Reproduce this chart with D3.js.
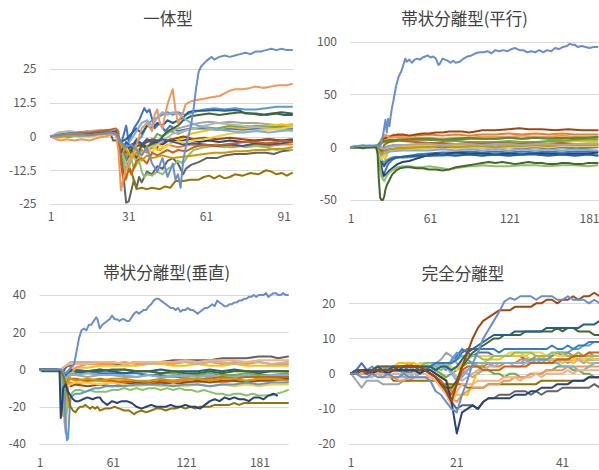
<!DOCTYPE html>
<html>
<head>
<meta charset="utf-8">
<script src="https://cdn.jsdelivr.net/npm/d3@7"></script>
<style>
  body { margin: 0; background: #fff; }
  svg text { font-family: "Noto Sans CJK JP", "Noto Sans", sans-serif; }
</style>
</head>
<body>
<div id="chart"></div>
<script>
// Excel default series colours, index = series number - 1
const palette = [
  "#4472C4", "#ED7D31", "#A5A5A5", "#FFC000", "#5B9BD5", "#70AD47",
  "#264478", "#9E480E", "#636363", "#997300", "#255E91", "#43682B",
  "#698ED0", "#F1975A", "#B7B7B7", "#FFCD33", "#7CAFDD", "#8CC168",
  "#335AA1", "#D26012", "#848484", "#CC9A00", "#327DC2", "#5A8A39",
  "#8FAADC", "#F4B183"
];

// ---- 一体型 ----
const titleA = "一体型";
const yTicksA = [25, 12.5, 0, -12.5, -25];
const xTicksA = [1, 31, 61, 91];
const seriesA = [
  { id: 1, values: [[1,0],[4,1],[8,1],[12,1.5],[16,2],[20,2],[24,2.5],[26,2],[28,-3],[30,4],[31,-2],[33,3],[35,6],[37,10.5],[38,9],[39,10],[41,3],[43,5],[45,2],[47,4],[50,2],[55,3],[60,3],[65,2.5],[70,3],[75,2.5],[80,3],[85,3],[90,2.5],[94,3]] },
  { id: 2, values: [[1,0],[4,0.5],[8,1],[12,0.5],[16,1],[20,1.5],[24,2],[26,2],[28,-8],[30,-12],[32,-7],[34,-9],[36,-5],[38,-6],[40,-4],[43,-5],[46,-3],[50,-4],[55,-3],[60,-3.5],[65,-3],[70,-4],[75,-3.5],[80,-3],[85,-3.5],[90,-3],[94,-3]] },
  { id: 3, values: [[1,0],[4,1.5],[8,1.5],[12,1],[16,1.5],[20,2],[24,1.5],[26,2],[28,-2],[30,-6],[32,-3],[35,-5],[38,-2],[41,-3],[44,0],[47,2],[50,3],[54,4],[58,5],[62,5.5],[66,5],[70,5.5],[75,5],[80,5],[85,4.5],[90,4],[94,4.5]] },
  { id: 4, values: [[1,0],[4,-0.5],[8,0],[12,0.5],[16,0],[20,0.5],[24,1],[26,0.5],[28,-4],[30,-7],[32,-5],[34,-6],[36,-4],[39,-3],[42,-5],[45,-4],[48,-2],[51,-1],[55,1],[60,2],[65,3],[70,3.5],[75,3],[80,3.5],[85,4],[90,4.5],[94,4]] },
  { id: 5, values: [[1,0],[4,0.5],[8,0],[12,0.5],[16,1],[20,1],[24,1.5],[26,1],[28,-3],[30,-8],[32,-4],[34,-2],[36,0],[38,4],[40,6],[42,7],[44,8],[46,9],[48,8],[50,9],[53,8],[56,9],[60,10],[64,10.5],[68,10],[72,10.5],[76,10],[80,10],[84,10.5],[88,11],[94,11]] },
  { id: 6, values: [[1,0],[4,1],[8,0.5],[12,1],[16,1],[20,1.5],[24,2],[26,2],[28,-5],[30,-3],[32,-6],[34,-2],[36,-4],[38,-1],[40,-2],[42,1],[44,0],[47,2],[50,1],[55,3],[60,3.5],[65,3],[70,4],[75,3.5],[80,4],[85,3.5],[90,3.5],[94,3.5]] },
  { id: 7, values: [[1,0],[4,0],[8,0.5],[12,0.5],[16,1],[20,1],[24,1.5],[26,1],[28,-2],[30,-5],[32,-3],[35,-2],[38,-4],[41,-2],[44,-3],[47,-1],[50,-2],[54,-1],[58,-2],[62,-1.5],[66,-2],[70,-1.5],[75,-2],[80,-1.5],[85,-1],[90,-1.5],[94,-1]] },
  { id: 8, values: [[1,0],[4,0.5],[8,1],[12,1],[16,1.5],[20,2],[24,2],[26,2],[28,-3],[30,-6],[33,-4],[36,-3],[40,-1],[44,-2],[48,-1],[52,0],[56,-1],[60,-0.5],[65,-1],[70,-0.5],[75,-1],[80,-1.5],[85,-1],[90,-1.5],[94,-1.5]] },
  { id: 9, values: [[1,0],[4,0.5],[8,0.5],[12,1],[16,1],[20,1],[24,1],[25,-1.5],[27,-1.5],[28,-3],[29,-15],[30,-24.5],[31,-24],[32,-20],[33,-16],[34,-19],[35,-15],[36,-17],[38,-13],[40,-14],[42,-11],[44,-12],[46,-9],[48,-8],[50,-10],[52,-14],[53,-12],[55,-10.5],[58,-9.5],[61,-8],[65,-8],[68,-7],[72,-6.5],[76,-6.5],[80,-6],[84,-6],[87,-6.5],[90,-5.5],[94,-5]] },
  { id: 10, values: [[1,0],[4,0],[8,0.5],[12,0.5],[16,1],[20,1],[24,1.5],[26,1.5],[28,-4],[30,-9],[32,-13],[34,-19.5],[36,-19],[38,-19.5],[40,-19],[43,-19.5],[45,-18.5],[47,-19],[49,-16.5],[52,-16.5],[55,-16],[58,-16],[60,-15],[62,-14.5],[64,-15.5],[66,-14.5],[68,-15.5],[70,-15],[72,-14],[75,-14.5],[78,-13.5],[81,-14],[84,-12.5],[86,-13],[88,-14],[90,-13.5],[92,-14.5],[94,-13.5]] },
  { id: 11, values: [[1,0],[4,0.5],[8,0],[12,0.5],[16,1],[20,1.5],[24,1],[26,1.5],[28,-2],[30,-1],[32,1],[34,3],[36,1],[38,4],[40,3],[42,5],[44,4],[46,6],[48,5],[50,6],[52,7],[54,9],[56,9.5],[60,9.5],[64,9.8],[68,9.5],[72,9.8],[74,9.5],[76,8.5],[80,8.5],[84,8],[88,8.5],[91,8],[94,8]] },
  { id: 12, values: [[1,0],[4,0.5],[8,1],[12,1],[16,1.5],[20,1.5],[24,2],[26,2],[28,-6],[30,-10],[32,-5],[34,-8],[36,-3],[38,-5],[40,-2],[42,-4],[44,0],[46,2],[48,3],[50,4],[52,6],[55,7.5],[58,8],[62,8.5],[66,8],[70,8.5],[74,9],[78,8.5],[82,8],[86,8.5],[90,9],[94,8.5]] },
  { id: 15, values: [[1,0],[4,1.5],[8,2],[12,1.5],[16,2],[20,2.5],[24,2],[26,2],[28,-5],[30,-10],[32,-7],[34,-9],[36,-6],[39,-4],[42,-3],[45,-1],[48,1],[52,2],[56,3],[60,4],[65,5],[70,4.5],[75,4],[80,3.5],[85,3],[90,2.5],[94,2]] },
  { id: 16, values: [[1,0],[4,0],[8,0.5],[12,1],[16,0.5],[20,1],[24,1],[26,1],[28,-6],[30,-4],[32,-8],[34,-5],[36,-7],[38,-4],[40,-6],[42,-3],[45,-4],[48,-2],[52,-2],[56,-1.5],[60,-1],[65,0],[70,1],[75,1.5],[80,2],[85,2.5],[90,3],[94,3.5]] },
  { id: 17, values: [[1,0],[4,0],[8,0.5],[12,0],[16,0.5],[20,1],[24,1],[26,1],[28,-2],[30,-4],[32,-1],[34,2],[36,5],[38,6],[40,4],[42,7],[44,9],[46,8],[48,9],[50,8.5],[52,7],[55,5],[58,4],[62,3],[66,2.5],[70,2],[75,1.5],[80,2],[85,1.5],[90,2],[94,2.5]] },
  { id: 18, values: [[1,0],[4,0.5],[8,0],[12,0.5],[16,1],[20,1],[24,1.5],[26,1.5],[28,-3],[29,-9],[30,-16],[31,-12],[32,-8],[33,-12],[35,-9],[36,-13],[37,-15],[38,-14],[40,-14.5],[42,-13],[44,-14],[46,-12],[48,-11],[50,-9],[52,-10],[54,-7],[56,-5],[60,-4],[64,-3.5],[68,-4],[72,-3],[76,-4],[80,-3.5],[84,-4],[88,-5],[91,-4.5],[94,-5]] },
  { id: 19, values: [[1,0],[4,0.5],[8,0.5],[12,1],[16,1],[20,1.5],[24,1.5],[26,2],[28,-6],[30,-2],[32,-4],[34,-1],[36,-3],[38,-1],[40,-2],[44,-1],[48,-2],[52,-3],[56,-2.5],[60,-3],[65,-3.5],[70,-3],[75,-3.5],[80,-2.5],[85,-3],[90,-2.5],[94,-2]] },
  { id: 20, values: [[1,0],[4,0.5],[8,1],[12,1.5],[16,1.5],[20,2],[24,2.5],[26,3],[27,2],[28,-10],[29,-17],[30,-15],[31,-12],[32,-14],[34,-9],[36,-8],[38,-10],[40,-6],[42,-7],[44,-6],[46,-5],[48,-6],[50,-5],[53,-5.5],[56,-4],[60,-3],[64,-3.5],[68,-3],[72,-2.5],[76,-2],[80,-2],[84,-2.5],[88,-2],[91,-1.5],[94,-2]] },
  { id: 22, values: [[1,0],[4,0],[8,0.5],[12,0.5],[16,0.5],[20,1],[24,1],[26,1],[28,-3],[30,-5],[32,-8],[34,-6],[36,-9],[38,-7],[40,-8],[44,-7],[48,-8],[52,-7.5],[56,-7],[60,-6.5],[64,-6],[68,-6],[72,-5.5],[76,-5.5],[80,-5],[84,-5],[88,-4.5],[91,-4.5],[94,-4]] },
  { id: 14, values: [[1,0],[3,-1],[5,-1.5],[7,-1],[10,-1.5],[13,-1],[16,-1.5],[19,-0.5],[22,0],[24,0.5],[26,1],[27,-5],[28,-20],[29,-15],[30,-12],[32,-8],[34,-3],[36,3],[38,5],[40,2],[41,8],[42,10],[43,5],[44,3],[45,8],[46,12],[47,15],[48,17.5],[49,10],[50,5],[51,7],[52,9],[53,12],[55,13],[57,13.5],[60,14],[63,14.5],[66,15],[68,16],[70,17],[72,17.5],[75,17.5],[78,18],[80,18.5],[83,18],[86,18.5],[89,19],[92,19],[94,19.5]] },
  { id: 13, values: [[1,0],[4,0.5],[8,1],[12,1],[16,0.5],[20,1],[24,1.5],[26,1],[28,-2],[30,-4],[32,-3],[34,-5],[36,-7],[38,-4],[40,-10],[42,-13],[44,-8],[46,-15],[48,-10],[49,-16],[50,-14],[51,-19],[52,-9],[53,-4],[54,0],[55,4],[56,10],[57,18],[58,24],[59,26],[61,28],[63,29.5],[64,28.5],[66,29.5],[68,30],[70,29.5],[72,30],[74,30.5],[76,31],[78,30.5],[80,31.5],[82,31.5],[84,32],[86,32.5],[88,32],[90,32.5],[92,32],[94,32]] }
];

// ---- 帯状分離型(平行) ----
const titleB = "帯状分離型(平行)";
const yTicksB = [100, 50, 0, -50];
const xTicksB = [1, 61, 121, 181];
const seriesB = [
  { id: 1, values: [[1,0],[5,1],[10,0],[15,1],[20,0],[22,-8],[23,-20],[25,-28],[27,-22],[29,-16],[32,-12],[35,-10],[40,-9],[45,-8],[50,-7],[60,-6],[70,-5],[80,-5],[90,-4],[100,-5],[110,-4],[120,-5],[130,-4],[140,-5],[150,-4],[160,-5],[170,-4],[187,-4]] },
  { id: 2, values: [[1,0],[5,0],[10,1],[15,0],[20,1],[22,2],[24,5],[26,9],[28,11],[30,10],[33,12],[36,11],[40,11],[50,11],[60,12],[70,11],[80,12],[90,11],[100,12],[110,12],[120,13],[130,12],[140,13],[150,12],[160,13],[170,12],[187,12]] },
  { id: 3, values: [[1,0],[5,1],[10,0],[15,1],[20,1],[22,0],[24,-3],[26,-1],[28,1],[32,2],[40,2],[50,1],[60,2],[70,2],[80,1],[90,2],[100,2],[110,1],[120,2],[130,2],[140,1],[150,2],[160,2],[170,1],[187,2]] },
  { id: 4, values: [[1,0],[5,0],[10,0],[15,1],[20,0],[22,-10],[24,-22],[25,-18],[27,-10],[29,-5],[32,-2],[36,0],[40,1],[50,1],[60,2],[70,1],[80,2],[90,2],[100,3],[110,3],[120,4],[130,3],[140,4],[150,5],[160,5],[170,6],[180,5],[187,5]] },
  { id: 5, values: [[1,0],[5,0],[10,1],[15,0],[20,1],[22,-3],[24,-12],[26,-15],[28,-12],[31,-10],[35,-9],[40,-10],[50,-9],[60,-8],[70,-8],[80,-7],[90,-7],[100,-6],[110,-7],[120,-6],[130,-7],[140,-6],[150,-7],[160,-6],[170,-7],[180,-6],[187,-7]] },
  { id: 6, values: [[1,0],[5,1],[10,0],[15,1],[20,1],[22,2],[24,4],[26,5],[30,6],[35,7],[40,8],[45,9],[50,8],[55,8],[60,7],[70,6],[80,6],[90,5],[100,5],[110,5],[120,6],[130,5],[140,5],[150,6],[160,6],[170,7],[180,7],[187,7]] },
  { id: 7, values: [[1,0],[5,0],[10,1],[15,0],[20,1],[22,-5],[24,-20],[26,-27],[28,-25],[30,-22],[33,-19],[36,-16],[40,-14],[45,-13],[50,-11],[55,-9],[60,-7],[65,-6],[70,-7],[75,-6],[80,-5],[90,-6],[100,-6],[110,-7],[120,-6],[130,-7],[140,-6],[150,-6],[160,-7],[170,-6],[180,-6],[187,-5]] },
  { id: 8, values: [[1,0],[5,1],[10,0],[15,1],[20,1],[22,3],[24,6],[26,8],[28,9],[30,10],[33,11],[36,12],[40,12],[45,11],[50,12],[55,13],[60,13],[65,14],[70,14],[75,15],[80,15],[85,15],[90,14],[95,15],[100,16],[110,16],[120,17],[128,18],[135,17],[145,17],[155,16],[165,17],[175,16],[187,16]] },
  { id: 9, values: [[1,0],[5,0],[10,1],[15,0],[20,0],[22,-2],[24,-4],[26,-3],[30,-2],[40,-1],[50,-1],[60,0],[70,-1],[80,0],[90,-1],[100,0],[110,-1],[120,0],[130,-1],[140,0],[150,-1],[160,0],[170,-1],[187,0]] },
  { id: 10, values: [[1,0],[5,0],[10,1],[15,1],[20,0],[22,-2],[24,-5],[26,2],[28,4],[30,5],[35,6],[40,7],[50,7],[60,7],[70,8],[80,7],[90,8],[100,8],[110,8],[120,9],[130,8],[140,9],[150,9],[160,9],[170,8],[180,9],[187,9]] },
  { id: 11, values: [[1,0],[5,1],[10,1],[15,0],[20,1],[22,-6],[24,-14],[26,-18],[28,-14],[30,-12],[34,-10],[40,-9],[50,-8],[60,-8],[70,-7],[80,-8],[90,-7],[100,-8],[110,-7],[120,-8],[130,-7],[140,-7],[150,-8],[160,-7],[170,-8],[180,-7],[187,-8]] },
  { id: 14, values: [[1,0],[5,0],[10,0],[15,1],[20,0],[22,3],[24,8],[26,12],[28,11],[30,9],[35,10],[40,9],[50,9],[60,9],[70,8],[80,9],[90,9],[100,10],[110,10],[120,10],[130,11],[140,10],[150,10],[160,11],[170,10],[187,10]] },
  { id: 16, values: [[1,0],[5,1],[10,0],[15,0],[20,1],[22,-6],[24,-12],[26,-8],[28,-5],[32,-3],[40,-2],[50,-2],[60,-1],[70,-2],[80,-1],[90,-1],[100,0],[110,-1],[120,0],[130,0],[140,1],[150,0],[160,1],[170,1],[187,1]] },
  { id: 17, values: [[1,0],[5,0],[10,1],[15,0],[20,0],[22,-4],[24,-8],[26,-6],[30,-4],[40,-3],[50,-3],[60,-3],[70,-2],[80,-3],[90,-2],[100,-3],[110,-2],[120,-3],[130,-2],[140,-3],[150,-2],[160,-3],[170,-2],[187,-3]] },
  { id: 20, values: [[1,0],[5,0],[10,1],[15,1],[20,0],[22,2],[24,4],[26,6],[30,7],[40,6],[50,5],[60,4],[70,4],[80,3],[90,4],[100,3],[110,4],[120,4],[130,3],[140,4],[150,3],[160,4],[170,3],[187,3]] },
  { id: 22, values: [[1,0],[5,0],[10,0],[15,1],[20,0],[22,-3],[24,-6],[26,-4],[30,-2],[40,-1],[50,0],[60,0],[70,1],[80,0],[90,1],[100,1],[110,0],[120,1],[130,1],[140,2],[150,1],[160,2],[170,2],[187,2]] },
  { id: 24, values: [[1,0],[5,0],[10,1],[15,1],[20,0],[22,3],[24,5],[28,6],[32,7],[40,7],[50,8],[60,8],[70,7],[80,8],[90,9],[100,8],[110,8],[120,9],[130,8],[140,9],[150,8],[160,8],[170,9],[180,9],[187,10]] },
  { id: 25, values: [[1,0],[5,1],[10,1],[15,2],[20,1],[22,1],[24,0],[26,-2],[28,0],[32,1],[40,2],[50,3],[60,3],[70,2],[80,3],[90,3],[100,2],[110,3],[120,3],[130,2],[140,3],[150,3],[160,2],[170,3],[187,3]] },
  { id: 18, values: [[1,0],[5,1],[10,0],[15,1],[20,0],[22,-10],[24,-28],[26,-32],[28,-27],[30,-24],[33,-21],[36,-19],[40,-18],[45,-18],[50,-19],[55,-19],[60,-18],[65,-19],[70,-20],[75,-21],[80,-20],[85,-19],[90,-18],[95,-18],[100,-17],[110,-18],[120,-18],[130,-17],[140,-17],[150,-18],[160,-17],[170,-17],[180,-18],[187,-17]] },
  { id: 12, values: [[1,0],[5,0],[10,-1],[15,0],[20,0],[21,-5],[22,-30],[23,-48],[24,-50],[25,-50],[26,-47],[27,-40],[28,-36],[30,-31],[32,-26],[35,-22],[38,-20],[42,-19],[46,-19],[50,-20],[55,-20],[60,-21],[65,-21],[70,-22],[75,-21],[80,-19],[85,-18],[90,-17],[95,-16],[100,-15],[105,-14],[110,-15],[115,-14],[120,-15],[125,-16],[130,-15],[135,-14],[140,-15],[145,-15],[150,-16],[155,-16],[160,-15],[165,-15],[170,-16],[175,-16],[180,-15],[187,-15]] },
  { id: 13, values: [[1,0],[5,1],[10,2],[15,1],[20,2],[23,1],[24,4],[25,10],[26,18],[27,26],[28,14],[29,27],[30,20],[31,30],[32,38],[33,44],[35,58],[37,67],[39,72],[41,80],[42,84],[43,81],[45,83],[47,80],[49,83],[51,84],[53,83],[55,85],[57,86],[59,87],[61,85],[63,86],[65,84],[67,78],[68,79],[70,84],[72,83],[74,82],[76,80],[78,82],[80,80],[83,81],[86,84],[89,86],[92,87],[95,89],[98,90],[101,90],[104,91],[107,89],[110,92],[113,91],[116,92],[119,91],[122,93],[125,94],[128,92],[131,92],[134,90],[137,91],[140,90],[143,92],[146,90],[149,92],[152,91],[155,94],[158,93],[161,95],[164,96],[166,98],[168,97],[170,97],[172,95],[175,96],[178,95],[181,94],[184,95],[187,95]] }
];

// ---- 帯状分離型(垂直) ----
const titleC = "帯状分離型(垂直)";
const yTicksC = [40, 20, 0, -20, -40];
const xTicksC = [1, 61, 121, 181];
const seriesC = [
  { id: 1, values: [[1,0],[5,0],[10,0],[15,0],[18,0],[20,-2],[22,-4],[24,-2],[26,-1],[30,0],[40,-1],[50,-2],[60,-2],[70,-2],[80,-2],[90,-3],[100,-3],[110,-4],[120,-4],[130,-3],[140,-4],[150,-4],[160,-3],[170,-4],[180,-3],[190,-4],[204,-4]] },
  { id: 2, values: [[1,0],[5,0],[10,0],[15,0],[18,-1],[20,-12],[22,-18],[24,-8],[26,-7],[30,-8],[35,-7],[40,-6],[50,-6],[60,-7],[70,-6],[80,-7],[90,-8],[100,-7],[110,-7],[120,-6],[130,-7],[140,-6],[150,-7],[160,-6],[170,-6],[180,-5],[190,-5],[204,-5]] },
  { id: 3, values: [[1,0],[5,0],[10,0],[15,0],[18,-1],[20,-4],[22,-6],[24,-4],[26,-3],[30,-3],[40,-4],[50,-3],[60,-3],[70,-4],[80,-4],[90,-3],[100,-4],[110,-3],[120,-4],[130,-3],[140,-4],[150,-4],[160,-3],[170,-4],[180,-3],[190,-4],[204,-3]] },
  { id: 4, values: [[1,0],[5,0],[10,0],[15,0],[18,0],[20,-3],[22,-12],[23,-6],[24,-2],[26,0],[30,1],[40,1],[50,2],[60,2],[70,2],[80,2],[90,3],[100,3],[110,2],[120,2],[130,3],[140,2],[150,2],[160,3],[170,2],[180,2],[190,2],[204,2]] },
  { id: 6, values: [[1,0],[5,0],[10,0],[15,0],[18,-1],[19,-10],[20,-25],[21,-23],[22,-10],[24,-5],[26,-3],[30,-2],[36,-1],[40,-1],[50,0],[60,-1],[70,0],[80,-1],[90,-1],[100,-2],[110,-2],[120,-3],[130,-3],[140,-2],[150,-3],[160,-3],[170,-2],[180,-3],[190,-3],[204,-2]] },
  { id: 8, values: [[1,0],[5,0],[10,0],[15,0],[18,-1],[20,-6],[22,-10],[24,-8],[26,-9],[30,-8],[40,-9],[50,-8],[60,-9],[70,-8],[80,-7],[90,-8],[100,-7],[110,-8],[120,-7],[130,-6],[140,-7],[150,-6],[160,-6],[170,-7],[180,-6],[190,-6],[204,-5]] },
  { id: 9, values: [[1,0],[5,0],[10,0],[15,0],[18,0],[20,-1],[22,1],[24,2],[26,2],[30,3],[40,3],[50,3],[60,3],[70,3],[80,4],[90,4],[100,4],[110,5],[120,5],[130,5],[140,5],[150,6],[160,6],[170,6],[180,7],[190,7],[196,6],[204,7]] },
  { id: 11, values: [[1,0],[5,0],[10,0],[15,0],[18,0],[20,-1],[22,-3],[24,-2],[26,-1],[30,-1],[40,-1],[50,0],[60,-1],[70,-2],[80,-1],[90,-1],[100,0],[110,-1],[120,-1],[130,-1],[140,0],[150,-1],[160,0],[170,-1],[180,-1],[190,-1],[204,-1]] },
  { id: 12, values: [[1,0],[3,-1],[10,-1],[15,-1],[18,-1],[20,-3],[22,-2],[24,-1],[26,0],[30,-1],[35,-2],[40,-1],[50,-1],[60,0],[70,0],[80,-1],[90,-1],[100,-2],[110,-1],[120,-2],[130,-2],[140,-1],[150,-2],[160,-1],[170,-1],[180,-2],[190,-1],[204,-1]] },
  { id: 14, values: [[1,0],[5,0],[10,0],[15,0],[18,-1],[20,-8],[21,-28],[22,-34],[23,-20],[24,-8],[26,-3],[28,-1],[30,1],[35,2],[40,3],[50,3],[60,3],[70,4],[80,3],[90,3],[100,4],[110,3],[120,4],[130,3],[140,4],[150,3],[160,4],[170,3],[180,4],[190,3],[204,3]] },
  { id: 15, values: [[1,0],[5,0],[10,0],[15,0],[18,0],[20,1],[22,2],[24,3],[26,4],[30,4],[40,4],[50,4],[60,4],[70,3],[80,4],[90,3],[100,4],[110,4],[120,4],[130,3],[140,4],[150,4],[160,3],[170,4],[180,4],[190,3],[204,4]] },
  { id: 16, values: [[1,0],[5,0],[10,0],[15,0],[18,-1],[20,-5],[22,-10],[24,-9],[26,-8],[30,-7],[40,-7],[50,-8],[60,-7],[70,-8],[80,-9],[90,-8],[100,-9],[110,-8],[120,-9],[130,-8],[140,-9],[150,-8],[160,-9],[170,-8],[180,-9],[190,-8],[204,-8]] },
  { id: 17, values: [[1,0],[5,0],[10,0],[15,0],[18,0],[20,-2],[22,-5],[24,-3],[26,-2],[30,-3],[40,-2],[50,-3],[60,-3],[70,-3],[80,-4],[90,-3],[100,-4],[110,-4],[120,-3],[130,-4],[140,-3],[150,-4],[160,-4],[170,-3],[180,-4],[190,-3],[204,-3]] },
  { id: 20, values: [[1,0],[5,0],[10,0],[15,0],[18,-1],[20,-4],[22,-8],[24,-6],[26,-5],[30,-5],[40,-6],[50,-5],[60,-6],[70,-7],[80,-6],[90,-7],[100,-6],[110,-6],[120,-5],[130,-5],[140,-5],[150,-4],[160,-5],[170,-4],[180,-4],[190,-4],[204,-4]] },
  { id: 22, values: [[1,0],[5,0],[10,0],[15,0],[18,-1],[20,-4],[22,-9],[24,-6],[26,-5],[30,-6],[40,-5],[50,-6],[60,-5],[70,-5],[80,-6],[90,-6],[100,-5],[110,-6],[120,-5],[130,-5],[140,-6],[150,-5],[160,-5],[170,-6],[180,-5],[190,-5],[204,-6]] },
  { id: 26, values: [[1,0],[5,0],[10,0],[15,0],[18,0],[20,1],[22,2],[26,3],[30,3],[40,3],[50,4],[60,4],[70,3],[80,4],[90,4],[100,4],[110,4],[120,5],[130,4],[140,5],[150,5],[160,5],[170,4],[180,5],[190,5],[204,5]] },
  { id: 18, values: [[1,0],[5,0],[10,0],[15,0],[18,-2],[20,-15],[22,-24],[24,-20],[26,-14],[28,-12],[30,-11],[34,-11],[38,-12],[42,-11],[46,-12],[50,-12],[55,-12],[60,-11],[65,-11],[70,-10],[75,-11],[80,-10],[85,-11],[90,-10],[95,-10],[100,-11],[105,-10],[110,-11],[115,-10],[120,-11],[125,-11],[130,-12],[135,-11],[140,-12],[145,-13],[150,-13],[155,-14],[160,-13],[165,-13],[170,-14],[175,-13],[180,-14],[185,-14],[190,-14],[195,-13],[200,-12],[204,-11]] },
  { id: 5, values: [[1,0],[5,0],[10,0],[15,0],[18,-1],[20,-5],[22,-30],[23,-38],[24,-37],[25,-25],[26,-15],[28,-14],[30,-13],[34,-13],[38,-12],[42,-11],[46,-10],[50,-10],[55,-9],[60,-9],[70,-9],[80,-8],[90,-8],[100,-8],[110,-9],[120,-8],[130,-8],[140,-9],[150,-8],[160,-8],[170,-7],[180,-8],[190,-7],[204,-7]] },
  { id: 10, values: [[1,0],[5,0],[10,0],[15,0],[18,-1],[20,-3],[22,-8],[24,-14],[26,-20],[28,-22],[30,-23],[32,-21],[34,-20],[36,-20],[38,-19],[40,-20],[42,-21],[44,-20],[46,-21],[48,-20],[50,-22],[54,-21],[58,-21],[62,-20],[66,-21],[70,-22],[74,-22],[78,-24],[80,-23],[84,-22],[88,-23],[92,-22],[96,-21],[100,-21],[104,-22],[108,-21],[112,-21],[116,-20],[120,-21],[124,-20],[128,-21],[132,-20],[136,-20],[140,-20],[144,-19],[148,-19],[152,-19],[156,-19],[160,-18],[164,-19],[168,-18],[172,-18],[176,-18],[180,-18],[186,-18],[192,-18],[198,-18],[204,-18]] },
  { id: 7, values: [[1,0],[5,0],[10,0],[15,0],[17,-1],[18,-26],[19,-20],[20,-10],[22,-8],[24,-12],[26,-14],[28,-16],[30,-17],[33,-17],[36,-16],[40,-15],[44,-16],[48,-15],[50,-15],[52,-17],[54,-18],[56,-19],[58,-18],[60,-17],[64,-18],[68,-17],[72,-17],[76,-18],[80,-20],[84,-21],[88,-20],[92,-19],[96,-20],[100,-20],[104,-20],[108,-19],[112,-20],[116,-20],[120,-19],[124,-20],[128,-20],[132,-21],[136,-19],[140,-17],[144,-16],[148,-17],[152,-15],[156,-16],[160,-15],[164,-16],[168,-16],[172,-17],[176,-15],[180,-15],[184,-16],[188,-14],[192,-13],[195,-14]] },
  { id: 13, values: [[1,0],[5,0],[10,0],[15,0],[18,0],[20,-1],[22,-2],[24,-1],[26,1],[28,2],[29,3],[31,10],[33,17],[35,21],[37,22],[39,21],[41,24],[43,24],[45,26],[47,28],[48,27],[50,22],[52,24],[54,25],[56,26],[58,27],[60,29],[62,27],[64,27],[66,26],[68,27],[70,27],[72,26],[74,26],[76,28],[78,30],[80,31],[82,30],[84,31],[86,32],[88,32],[90,34],[92,35],[94,37],[96,38],[98,38],[100,37],[102,36],[104,35],[106,34],[108,33],[110,33],[112,32],[114,33],[116,31],[118,32],[120,32],[122,33],[124,32],[126,32],[128,31],[130,30],[132,31],[134,32],[136,33],[138,33],[140,34],[142,35],[144,34],[146,37],[148,36],[150,35],[152,34],[154,34],[156,35],[158,35],[160,36],[162,36],[164,37],[166,37],[168,38],[170,38],[172,39],[174,39],[176,40],[178,39],[180,40],[182,40],[184,40],[186,41],[188,39],[190,40],[192,41],[194,41],[196,40],[198,40],[200,41],[202,40],[204,40]] }
];

// ---- 完全分離型 ----
const titleD = "完全分離型";
const yTicksD = [20, 10, 0, -10, -20];
const xTicksD = [1, 21, 41];
const seriesD = [
  { id: 1, values: [[1,0],[2,1],[3,3],[4,1],[5,1],[6,1],[7,2],[8,1],[9,2],[10,1],[11,1],[12,2],[13,1],[14,1],[15,2],[16,2],[17,1],[18,2],[19,3],[20,3],[21,5],[22,7],[23,6],[24,5],[25,6],[26,6],[27,6],[28,5],[29,5],[30,5],[31,5],[32,5],[33,5],[34,4],[35,4],[36,4],[37,4],[38,4],[39,4],[40,4],[41,4],[42,4],[43,5],[44,4],[45,4],[46,4],[47,4],[48,4]] },
  { id: 2, values: [[1,0],[2,0],[3,1],[4,1],[5,1],[6,2],[7,1],[8,1],[9,2],[10,2],[11,2],[12,3],[13,2],[14,2],[15,2],[16,1],[17,0],[18,-1],[19,-2],[20,-5],[21,-3],[22,0],[23,1],[24,2],[25,2],[26,2],[27,3],[28,2],[29,2],[30,3],[31,3],[32,3],[33,4],[34,4],[35,4],[36,5],[37,5],[38,5],[39,5],[40,6],[41,5],[42,6],[43,5],[44,6],[45,5],[46,6],[47,5],[48,5]] },
  { id: 3, values: [[1,0],[2,-2],[3,-4],[4,-2],[5,-2],[6,-2],[7,-3],[8,-3],[9,-3],[10,-3],[11,-2],[12,-2],[13,-1],[14,0],[15,1],[16,2],[17,3],[18,4],[19,6],[20,5],[21,3],[22,1],[23,0],[24,-1],[25,0],[26,1],[27,2],[28,3],[29,3],[30,3],[31,3],[32,3],[33,3],[34,3],[35,4],[36,3],[37,3],[38,4],[39,3],[40,4],[41,4],[42,3],[43,4],[44,4],[45,3],[46,4],[47,4],[48,4]] },
  { id: 4, values: [[1,0],[2,0],[3,0],[4,0],[5,1],[6,1],[7,2],[8,2],[9,2],[10,3],[11,3],[12,3],[13,3],[14,2],[15,2],[16,2],[17,1],[18,0],[19,-2],[20,-4],[21,-6],[22,-6],[23,-6],[24,-3],[25,1],[26,3],[27,4],[28,4],[29,4],[30,5],[31,5],[32,5],[33,5],[34,5],[35,4],[36,4],[37,5],[38,4],[39,4],[40,4],[41,3],[42,4],[43,3],[44,4],[45,4],[46,3],[47,3],[48,3]] },
  { id: 5, values: [[1,0],[2,1],[3,1],[4,1],[5,2],[6,1],[7,1],[8,2],[9,1],[10,1],[11,1],[12,1],[13,2],[14,2],[15,3],[16,3],[17,3],[18,2],[19,1],[20,4],[21,6],[22,5],[23,4],[24,3],[25,3],[26,3],[27,3],[28,3],[29,3],[30,3],[31,3],[32,3],[33,3],[34,3],[35,4],[36,4],[37,4],[38,4],[39,5],[40,6],[41,6],[42,6],[43,7],[44,7],[45,8],[46,8],[47,9],[48,9]] },
  { id: 6, values: [[1,0],[2,1],[3,1],[4,1],[5,1],[6,1],[7,1],[8,1],[9,1],[10,1],[11,0],[12,1],[13,1],[14,1],[15,2],[16,2],[17,1],[18,0],[19,-1],[20,0],[21,1],[22,2],[23,3],[24,3],[25,2],[26,2],[27,1],[28,0],[29,0],[30,-1],[31,0],[32,0],[33,-1],[34,-1],[35,0],[36,0],[37,0],[38,1],[39,1],[40,2],[41,2],[42,2],[43,1],[44,1],[45,0],[46,0],[47,-1],[48,-1]] },
  { id: 10, values: [[1,0],[2,0],[3,0],[4,0],[5,1],[6,0],[7,0],[8,0],[9,-2],[10,-2],[11,-2],[12,-2],[13,-2],[14,-2],[15,-2],[16,-2],[17,-2],[18,-3],[19,-3],[20,-3],[21,-3],[22,-3],[23,-4],[24,-4],[25,-4],[26,-4],[27,-3],[28,-3],[29,-3],[30,-3],[31,-3],[32,-3],[33,-3],[34,-3],[35,-3],[36,-3],[37,-2],[38,-2],[39,-2],[40,-2],[41,-2],[42,-2],[43,-2],[44,-2],[45,-2],[46,-1],[47,-1],[48,-1]] },
  { id: 14, values: [[1,0],[2,0],[3,0],[4,0],[5,-1],[6,0],[7,-1],[8,-1],[9,-1],[10,-2],[11,-2],[12,-1],[13,-1],[14,-1],[15,-1],[16,-1],[17,-2],[18,-3],[19,-5],[20,-7],[21,-8],[22,-6],[23,-5],[24,-4],[25,-4],[26,-4],[27,-3],[28,-3],[29,-3],[30,-2],[31,-2],[32,-1],[33,-1],[34,-1],[35,0],[36,0],[37,0],[38,1],[39,1],[40,1],[41,1],[42,2],[43,2],[44,2],[45,2],[46,2],[47,2],[48,2]] },
  { id: 15, values: [[1,0],[2,0],[3,-1],[4,-1],[5,-1],[6,0],[7,0],[8,0],[9,-1],[10,-1],[11,-1],[12,0],[13,0],[14,1],[15,1],[16,2],[17,2],[18,3],[19,3],[20,1],[21,-1],[22,-2],[23,-1],[24,0],[25,1],[26,1],[27,2],[28,2],[29,3],[30,3],[31,3],[32,2],[33,2],[34,3],[35,3],[36,3],[37,3],[38,3],[39,3],[40,3],[41,4],[42,4],[43,4],[44,4],[45,4],[46,4],[47,5],[48,5]] },
  { id: 16, values: [[1,0],[2,1],[3,1],[4,1],[5,1],[6,1],[7,1],[8,1],[9,1],[10,2],[11,2],[12,2],[13,2],[14,3],[15,3],[16,2],[17,2],[18,2],[19,3],[20,2],[21,1],[22,3],[23,4],[24,5],[25,5],[26,5],[27,5],[28,5],[29,5],[30,5],[31,6],[32,6],[33,6],[34,5],[35,6],[36,6],[37,6],[38,5],[39,6],[40,5],[41,5],[42,5],[43,4],[44,5],[45,4],[46,5],[47,4],[48,4]] },
  { id: 17, values: [[1,0],[2,0],[3,0],[4,0],[5,0],[6,0],[7,0],[8,-1],[9,0],[10,0],[11,-1],[12,-1],[13,0],[14,0],[15,1],[16,2],[17,2],[18,3],[19,2],[20,0],[21,-2],[22,-1],[23,1],[24,2],[25,3],[26,3],[27,3],[28,3],[29,3],[30,3],[31,3],[32,3],[33,3],[34,4],[35,3],[36,4],[37,3],[38,3],[39,3],[40,3],[41,2],[42,2],[43,2],[44,1],[45,1],[46,2],[47,3],[48,3]] },
  { id: 18, values: [[1,0],[2,0],[3,1],[4,1],[5,1],[6,2],[7,2],[8,2],[9,1],[10,1],[11,1],[12,1],[13,2],[14,2],[15,3],[16,3],[17,2],[18,1],[19,2],[20,3],[21,4],[22,5],[23,5],[24,5],[25,5],[26,4],[27,4],[28,5],[29,5],[30,5],[31,5],[32,6],[33,6],[34,6],[35,6],[36,5],[37,5],[38,5],[39,6],[40,6],[41,6],[42,5],[43,5],[44,6],[45,5],[46,5],[47,5],[48,5]] },
  { id: 20, values: [[1,0],[2,0],[3,0],[4,1],[5,1],[6,1],[7,1],[8,1],[9,2],[10,2],[11,2],[12,2],[13,2],[14,2],[15,1],[16,0],[17,-1],[18,-2],[19,-4],[20,-6],[21,-3],[22,1],[23,2],[24,2],[25,2],[26,1],[27,1],[28,1],[29,1],[30,2],[31,2],[32,2],[33,2],[34,2],[35,3],[36,3],[37,3],[38,3],[39,3],[40,4],[41,4],[42,4],[43,5],[44,5],[45,5],[46,6],[47,6],[48,6]] },
  { id: 23, values: [[1,0],[2,0],[3,1],[4,0],[5,1],[6,1],[7,0],[8,1],[9,1],[10,1],[11,1],[12,0],[13,1],[14,1],[15,1],[16,2],[17,3],[18,3],[19,3],[20,3],[21,4],[22,6],[23,7],[24,7],[25,7],[26,7],[27,7],[28,7],[29,6],[30,7],[31,7],[32,7],[33,7],[34,7],[35,7],[36,7],[37,7],[38,7],[39,8],[40,7],[41,7],[42,8],[43,7],[44,8],[45,8],[46,9],[47,9],[48,9]] },
  { id: 26, values: [[1,0],[2,0],[3,0],[4,1],[5,0],[6,0],[7,0],[8,-1],[9,0],[10,0],[11,0],[12,0],[13,0],[14,0],[15,0],[16,-1],[17,-2],[18,-4],[19,-6],[20,-9],[21,-5],[22,-3],[23,-3],[24,-3],[25,-2],[26,-2],[27,-2],[28,-2],[29,-2],[30,-1],[31,-1],[32,-1],[33,-2],[34,-1],[35,-1],[36,0],[37,-1],[38,0],[39,0],[40,0],[41,0],[42,1],[43,0],[44,1],[45,1],[46,1],[47,1],[48,1]] },
  { id: 9, values: [[1,0],[2,1],[3,1],[4,1],[5,1],[6,2],[7,2],[8,2],[9,2],[10,2],[11,2],[12,2],[13,2],[14,1],[15,1],[16,0],[17,-1],[18,-3],[19,-5],[20,-8],[21,-10],[22,-9],[23,-9],[24,-9],[25,-10],[26,-8],[27,-7],[28,-7],[29,-6],[30,-6],[31,-6],[32,-5],[33,-5],[34,-5],[35,-6],[36,-5],[37,-6],[38,-5],[39,-5],[40,-5],[41,-4],[42,-4],[43,-4],[44,-4],[45,-4],[46,-4],[47,-3],[48,-4]] },
  { id: 12, values: [[1,0],[2,1],[3,1],[4,1],[5,1],[6,1],[7,1],[8,1],[9,1],[10,1],[11,1],[12,1],[13,1],[14,1],[15,1],[16,0],[17,-1],[18,-3],[19,-4],[20,-4],[21,-2],[22,2],[23,4],[24,6],[25,7],[26,8],[27,9],[28,10],[29,10],[30,11],[31,11],[32,11],[33,11],[34,12],[35,12],[36,12],[37,12],[38,12],[39,12],[40,13],[41,12],[42,13],[43,13],[44,12],[45,12],[46,12],[47,11],[48,11]] },
  { id: 11, values: [[1,0],[2,1],[3,1],[4,1],[5,1],[6,2],[7,1],[8,1],[9,2],[10,1],[11,2],[12,2],[13,2],[14,2],[15,2],[16,2],[17,1],[18,2],[19,2],[20,1],[21,2],[22,4],[23,6],[24,7],[25,8],[26,9],[27,10],[28,11],[29,11],[30,11],[31,11],[32,12],[33,12],[34,12],[35,12],[36,12],[37,12],[38,13],[39,13],[40,13],[41,13],[42,13],[43,13],[44,13],[45,14],[46,14],[47,14],[48,15]] },
  { id: 7, values: [[1,0],[2,0],[3,1],[4,1],[5,0],[6,1],[7,1],[8,0],[9,1],[10,1],[11,1],[12,1],[13,1],[14,0],[15,1],[16,1],[17,0],[18,-1],[19,-2],[20,-8],[21,-17],[22,-11],[23,-10],[24,-9],[25,-10],[26,-8],[27,-7],[28,-7],[29,-7],[30,-7],[31,-7],[32,-6],[33,-6],[34,-6],[35,-5],[36,-5],[37,-4],[38,-4],[39,-4],[40,-3],[41,-3],[42,-3],[43,-2],[44,-2],[45,-2],[46,-1],[47,-1],[48,-1]] },
  { id: 8, values: [[1,0],[2,0],[3,1],[4,0],[5,1],[6,1],[7,1],[8,1],[9,1],[10,2],[11,2],[12,2],[13,2],[14,2],[15,1],[16,0],[17,-1],[18,-3],[19,-5],[20,-8],[21,-3],[22,2],[23,6],[24,10],[25,13],[26,15],[27,16],[28,17],[29,18],[30,18],[31,18],[32,19],[33,19],[34,19],[35,19],[36,20],[37,20],[38,21],[39,21],[40,20],[41,21],[42,21],[43,22],[44,21],[45,22],[46,22],[47,23],[48,22]] },
  { id: 13, values: [[1,0],[2,0],[3,-1],[4,-1],[5,0],[6,-1],[7,-1],[8,0],[9,-1],[10,-1],[11,0],[12,-1],[13,-1],[14,-1],[15,-1],[16,-2],[17,-5],[18,-6],[19,-8],[20,-10],[21,-11],[22,-6],[23,-2],[24,3],[25,6],[26,10],[27,12.5],[28,15],[29,17.5],[30,20.5],[31,21.5],[32,21],[33,22],[34,22],[35,22],[36,21],[37,22],[38,22],[39,22],[40,21],[41,21],[42,22],[43,21],[44,21],[45,21],[46,20],[47,21],[48,20]] }
];

// panel layout: grid x extent, x/y pixel ranges, label positions
const panels = [
  { title: titleA, series: seriesA, yTicks: yTicksA, xTicks: xTicksA, xDomain: [1, 94], xRange: [51, 292],
    yDomain: [-25, 25], yRange: [204, 69], gx: [50, 293], titleX: 168, titleY: 25, xLabelY: 221 },
  { title: titleB, series: seriesB, yTicks: yTicksB, xTicks: xTicksB, xDomain: [1, 187], xRange: [351, 597.5],
    yDomain: [-50, 100], yRange: [200, 41.7], gx: [350.5, 599], titleX: 464.5, titleY: 25, xLabelY: 222.5 },
  { title: titleC, series: seriesC, yTicks: yTicksC, xTicks: xTicksC, xDomain: [1, 204], xRange: [40, 288],
    yDomain: [-40, 40], yRange: [444, 295], gx: [39.5, 288.5], titleX: 166.7, titleY: 279, xLabelY: 467 },
  { title: titleD, series: seriesD, yTicks: yTicksD, xTicks: xTicksD, xDomain: [1, 48], xRange: [351, 599.6],
    yDomain: [-20, 20], yRange: [444, 303.3], gx: [349, 599], titleX: 463, titleY: 280, xLabelY: 467 }
];

const svg = d3.select("#chart")
    .append("svg")
    .attr("width", 599)
    .attr("height", 470);

panels.forEach(function(p) {
    const g = svg.append("g");
    const x = d3.scaleLinear().domain(p.xDomain).range(p.xRange);
    const y = d3.scaleLinear().domain(p.yDomain).range(p.yRange);

    // gridlines
    g.selectAll(".grid")
        .data(p.yTicks)
        .enter().append("line")
        .attr("x1", p.gx[0])
        .attr("x2", p.gx[1])
        .attr("y1", d => Math.round(y(d)) + 0.5)
        .attr("y2", d => Math.round(y(d)) + 0.5)
        .style("stroke", "#d9d9d9")
        .style("stroke-width", "1px");

    // y labels
    g.selectAll(".ylab")
        .data(p.yTicks)
        .enter().append("text")
        .attr("x", p.gx[0] - 13.5)
        .attr("y", d => y(d))
        .attr("dy", "0.36em")
        .attr("text-anchor", "end")
        .style("font-size", "12px")
        .style("fill", "#595959")
        .text(d => d);

    // x labels
    g.selectAll(".xlab")
        .data(p.xTicks)
        .enter().append("text")
        .attr("x", d => x(d))
        .attr("y", p.xLabelY)
        .attr("text-anchor", "middle")
        .style("font-size", "12px")
        .style("fill", "#595959")
        .text(d => d);

    // lines
    const line = d3.line()
        .x(d => x(d[0]))
        .y(d => y(d[1]));

    g.selectAll(".series")
        .data(p.series)
        .enter().append("path")
        .attr("d", d => line(d.values))
        .style("fill", "none")
        .style("stroke", d => palette[d.id - 1])
        .style("stroke-width", "2px")
        .style("stroke-linejoin", "round")
        .style("stroke-linecap", "round");

    // title
    svg.append("text")
        .attr("x", p.titleX)
        .attr("y", p.titleY)
        .attr("text-anchor", "middle")
        .style("font-size", "16.5px")
        .style("fill", "#404040")
        .text(p.title);
});
</script>
</body>
</html>
